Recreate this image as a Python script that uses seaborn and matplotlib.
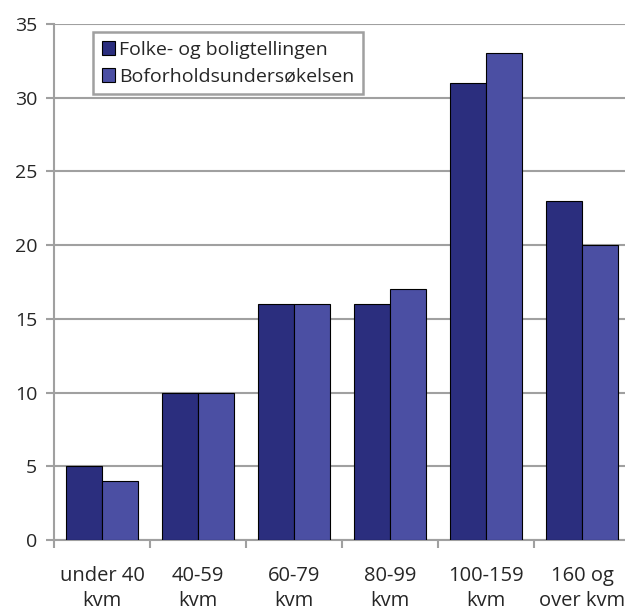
import matplotlib
matplotlib.use("Agg")
import matplotlib.pyplot as plt
import seaborn as sns
import pandas as pd
import numpy as np

categories = ["under 40\nkvm", "40-59\nkvm", "60-79\nkvm", "80-99\nkvm", "100-159\nkvm", "160 og\nover kvm"]
folke = [5, 10, 16, 16, 31, 23]
bofor = [4, 10, 16, 17, 33, 20]
series = ["Folke- og boligtellingen", "Boforholdsundersøkelsen"]
colors = ["#2B2E7E", "#4B4FA3"]

df = pd.DataFrame({
    "kat": categories * 2,
    "verdi": folke + bofor,
    "serie": [series[0]] * len(categories) + [series[1]] * len(categories),
})

sns.set_style("white")
plt.rcParams["font.family"] = ["Open Sans", "DejaVu Sans"]

fig = plt.figure(figsize=(6.25, 6.13), dpi=100)
ax = fig.add_axes([54 / 625, 73 / 613, 576 / 625, 516 / 613])

sns.barplot(data=df, x="kat", y="verdi", hue="serie", palette=colors, saturation=1,
            width=0.74, edgecolor="black", linewidth=0.8, ax=ax, zorder=3)

ax.set_xlim(-0.5, 5.5)
ax.set_ylim(0, 35)
ax.set_yticks(np.arange(0, 36, 5))
ax.yaxis.grid(True, color="#A0A0A0", linewidth=1.5, zorder=0)
ax.set_axisbelow(True)
ax.set_xlabel("")
ax.set_ylabel("")

grey = "#A0A0A0"
for s in ["top", "right"]:
    ax.spines[s].set_visible(False)
for s in ["left", "bottom"]:
    ax.spines[s].set_color(grey)
    ax.spines[s].set_linewidth(1.5)

ax.set_xticks(np.arange(len(categories)))
ax.set_xticklabels(categories, fontsize=14.5, linespacing=1.3)
ax.set_xticks(np.arange(-0.5, len(categories), 1), minor=True)
ax.tick_params(axis="x", which="major", length=0, pad=19)
ax.tick_params(axis="x", which="minor", length=6, width=1.5, color=grey, direction="out", bottom=True)
ax.tick_params(axis="y", length=6, width=1.5, color=grey, direction="out", left=True, labelsize=14, pad=6)

leg = ax.legend(loc="upper left", bbox_to_anchor=(39 / 576, 508 / 516), fontsize=14,
                frameon=True, fancybox=False, edgecolor=grey, framealpha=1,
                handlelength=0.7, handleheight=0.7, handletextpad=0.2,
                borderpad=0.45, labelspacing=0.45, borderaxespad=0)
leg.get_frame().set_linewidth(1.8)

fig.savefig("out.png", dpi=100)
